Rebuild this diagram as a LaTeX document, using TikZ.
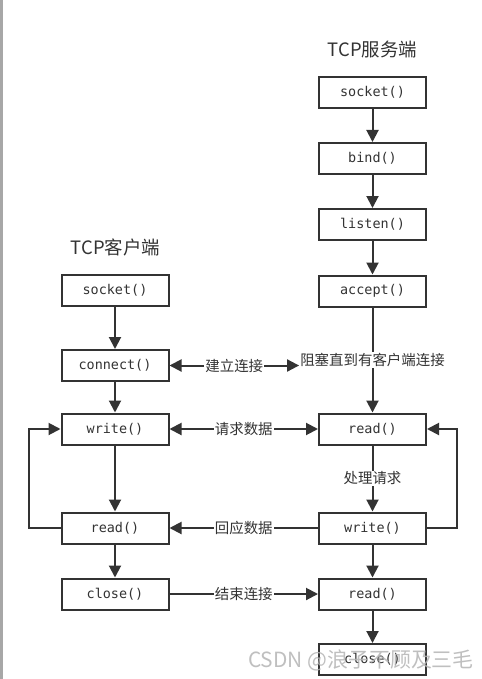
\documentclass[tikz,border=0pt]{standalone}
\usepackage{fontspec}
\setmonofont{DejaVu Sans Mono}
\newfontfamily\cjk{Noto Sans CJK SC}
\usetikzlibrary{arrows.meta}
\definecolor{lc}{HTML}{333333}
\definecolor{wm}{HTML}{B4B4B4}
\begin{document}
\begin{tikzpicture}[x=1bp,y=-1bp,
  box/.style={draw=lc, line width=2bp, minimum width=107bp, minimum height=31bp, inner sep=0pt,
    font=\ttfamily\fontsize{13.5}{15}\selectfont, text=lc},
  lbl/.style={fill=white, inner sep=1bp, font=\cjk\fontsize{14.5}{16}\selectfont, text=lc},
  ttl/.style={font=\cjk\fontsize{18.5}{20}\selectfont, text=lc},
  conn/.style={draw=lc, line width=2bp, -{Triangle[length=12bp,width=12bp]}},
  biconn/.style={draw=lc, line width=2bp, {Triangle[length=12bp,width=12bp]}-{Triangle[length=12bp,width=12bp]}}]
\useasboundingbox (0,0) rectangle (482,679);
\fill[white] (0,0) rectangle (482,679);
\fill[gray!85!black!60] (0,0) rectangle (3,679);

% titles
\node[ttl] (tserver) at (372.5,50) {TCP服务端};
\node[ttl] (tclient) at (115.5,247) {TCP客户端};

% server boxes
\node[box] (ssock)   at (372.5,92.5)  {socket()};
\node[box] (sbind)   at (372.5,158.5) {bind()};
\node[box] (slisten) at (372.5,224.5) {listen()};
\node[box] (saccept) at (372.5,291)   {accept()};
\node[box] (sread)   at (372.5,429)   {read()};
\node[box] (swrite)  at (372.5,528)   {write()};
\node[box] (sread2)  at (372.5,594)   {read()};
\node[box] (sclose)  at (372.5,659.5) {close()};

% client boxes
\node[box] (csock)  at (115,290.5) {socket()};
\node[box] (cconn)  at (115,365.5) {connect()};
\node[box] (cwrite) at (115,429)   {write()};
\node[box] (cread)  at (115,528)   {read()};
\node[box] (cclose) at (115,594)   {close()};

% server vertical flow
\draw[conn] (ssock) -- (sbind);
\draw[conn] (sbind) -- (slisten);
\draw[conn] (slisten) -- (saccept);
\draw[conn] (saccept) -- (sread);
\node[lbl] (block) at (372.5,360) {阻塞直到有客户端连接};
\draw[conn] (sread) -- node[lbl] (proc) {处理请求} (swrite);
\draw[conn] (swrite) -- (sread2);
\draw[conn] (sread2) -- (sclose);

% client vertical flow
\draw[conn] (csock) -- (cconn);
\draw[conn] (cconn) -- (cwrite);
\draw[conn] (cwrite) -- (cread);
\draw[conn] (cread) -- (cclose);

% loops
\draw[conn] (cread.west) -- ++(-31,0) |- (cwrite.west);
\draw[conn] (swrite.east) -- ++(30,0) |- (sread.east);

% horizontal exchanges
\draw[biconn] (cconn.east) -- node[lbl] (est) {建立连接} (cconn.east -| block.west);
\draw[biconn] (cwrite.east) -- node[lbl] (req) {请求数据} (sread.west);
\draw[conn] (swrite.west) -- node[lbl] (resp) {回应数据} (cread.east);
\draw[conn] (cclose.east) -- node[lbl] (fin) {结束连接} (sread2.west);

% watermark
\node[font=\cjk\fontsize{21}{24}\selectfont, text=wm, opacity=0.85] (wmark) at (361,660) {CSDN @浪子不顾及三毛};
\end{tikzpicture}
\end{document}
